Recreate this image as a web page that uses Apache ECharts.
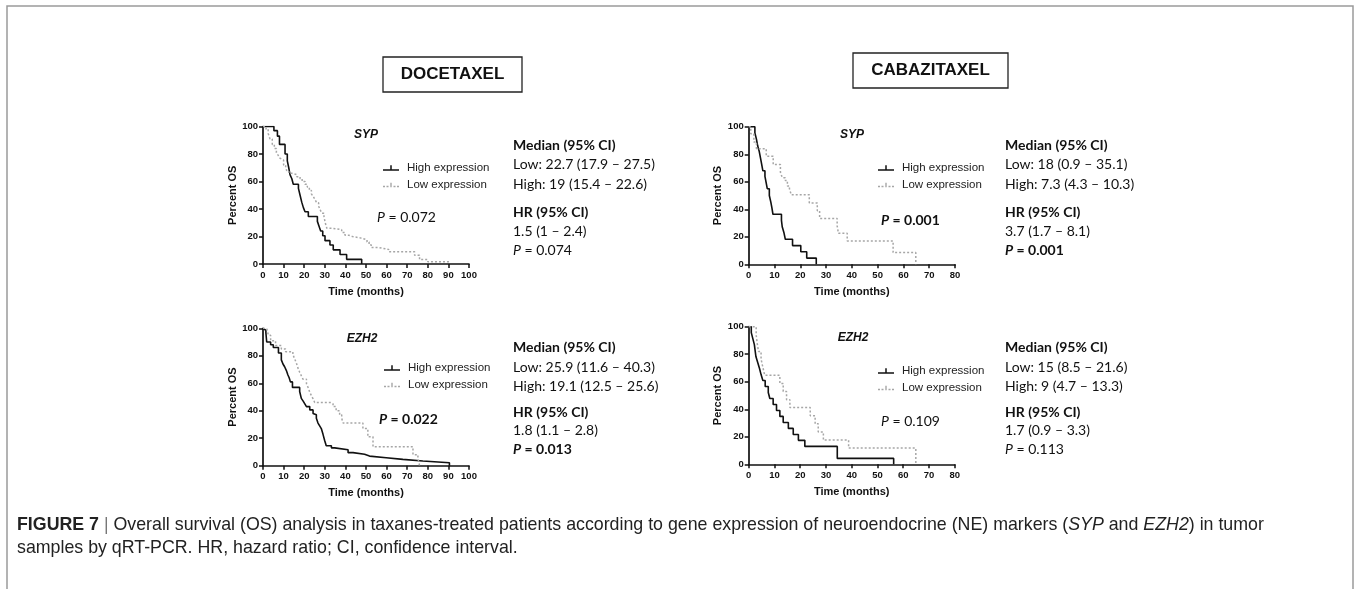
<!DOCTYPE html>
<html><head><meta charset="utf-8">
<script src="https://cdn.jsdelivr.net/npm/echarts@6/dist/echarts.min.js"></script>
<style>html,body{margin:0;padding:0;background:#fff}#c{width:1354px;height:589px}</style>
</head><body><div id="c"></div>
<script>
// ---- Kaplan-Meier step data: [time (months), percent OS after the step] ----
const docSypHigh = [[0,100],[5.3,97],[7,93],[8,87],[10.7,80],[11.8,75],[12.5,70],[13.1,65],[14,62],[14.7,58],[17.2,55],[18,50],[18.8,45],[19.6,41],[20.4,38],[22,34.5],[26.4,31],[27.2,27.5],[28,24],[29,20.5],[30.1,17],[32.5,13.8],[34.1,10.3],[37.4,6.9],[40.6,3.4],[47.9,0]];
const docSypLow = [[0,100],[1.5,98],[2.5,95],[3.4,91],[4.5,87],[5.5,84],[6.5,81],[7.4,79],[8.2,77],[9,75.6],[10,72],[11,70],[11.5,68],[12.5,66],[14,65],[16.4,63.5],[18,62],[19,60],[20.4,58],[21.5,56],[22.5,53.5],[23.5,51],[24.4,49],[25.2,47],[26,44.6],[27,42],[27.6,40],[28.5,37],[29.6,34.4],[30.2,30],[31,26],[33.3,25],[38.2,23],[39.8,21],[41.5,20],[43.4,19],[47.2,17.6],[50.5,16],[51.5,14],[52.5,12],[56,10.6],[61,9],[73.6,6.4],[76,3.2],[80,1.6],[91,1.6]];
const cabSypHigh = [[0,100],[2.4,95.5],[3,91],[3.5,86],[4.1,82],[4.6,77],[5,73],[5.5,68],[6.3,64],[6.8,59],[7.2,55],[8,50],[8.6,45],[9,41],[9.4,36.4],[12.7,32],[13,27.3],[13.7,22.7],[14.2,18.2],[17,13.6],[20.2,9.1],[22.5,4.5],[26.2,0]];
const cabSypLow = [[0,100],[0.8,95],[2,89],[3,84],[6.8,78.6],[9.5,72.5],[12.3,67],[13,63],[14.2,61],[15,57],[15.8,55],[16.5,50.5],[23.5,44.6],[26.6,39],[27.5,33.4],[34.3,28],[34.8,22.5],[38.2,17],[56,8.5],[64.8,0]];
const docEzhHigh = [[0,100],[0.8,98.6],[1.4,96.8],[1.8,90],[3.7,88],[5,86],[7.5,82],[8.9,77],[9.7,74],[10.5,72],[11.3,69.4],[12.1,66],[12.7,64],[13.3,61],[14.3,57],[17.8,54],[18.6,49],[19.5,47],[20.3,45],[21.1,43],[22.7,40.6],[24.3,38],[25.1,37],[25.9,34.5],[26.7,31],[27.5,29],[28.3,27],[29.1,23],[29.9,18.5],[30.7,14.5],[33.2,13],[34.8,11.6],[41.3,9.5],[43.7,8.3],[49.3,7],[51.7,5.8],[59.8,4.6],[67.9,3.4],[77.6,2.2],[90.5,0]];
const docEzhLow = [[0,100],[1.8,98.6],[2.6,95],[3.7,91],[6.1,87.5],[8.9,85],[11,83],[14.5,81],[15.3,78],[16.2,74.7],[17,71],[17.8,68],[18.6,65.5],[19.4,63],[21.1,59.6],[22,56.5],[22.7,53.5],[23.5,51],[24.3,48.7],[25.1,46],[33,45],[34,43],[35.5,40],[37.2,37],[38.2,34.5],[38.9,31],[48.5,27],[50.9,21],[53.4,13.8],[72.8,8],[75.2,5.6],[76,0]];
const cabEzhHigh = [[0,100],[1,95.7],[1.6,91.3],[2.2,87],[2.5,82.6],[2.8,78.3],[3.5,74],[4.2,69.6],[4.8,65.2],[5.5,60.9],[6.4,56.5],[7.6,52.2],[8.2,47.8],[9.5,43.5],[10.8,39.1],[12.1,34.8],[13.4,30.4],[15.4,26.1],[17.3,21.7],[19.3,17.4],[21.8,13],[34.4,4.3],[56.3,0]];
const cabEzhLow = [[0,100],[2.9,94],[3.3,88],[3.8,82],[4.8,76.5],[5.5,70.5],[6.2,64.7],[12.1,58.8],[13.4,52.9],[14.7,47],[16,41.2],[23.9,35.3],[25.8,29.4],[27,23.5],[29,17.6],[38.8,11.8],[64.9,0]];

const xMaxes = [100, 80, 100, 80];
const genes = ['SYP', 'SYP', 'EZH2', 'EZH2'];
const drugs = ['DOCETAXEL', 'CABAZITAXEL'];
const pLog = ['0.072', '0.001', '0.022', '0.109'];
const pLogBold = [false, true, true, false];
const medLow = ['Low: 22.7 (17.9 – 27.5)', 'Low: 18 (0.9 – 35.1)', 'Low: 25.9 (11.6 – 40.3)', 'Low: 15 (8.5 – 21.6)'];
const medHigh = ['High: 19 (15.4 – 22.6)', 'High: 7.3 (4.3 – 10.3)', 'High: 19.1 (12.5 – 25.6)', 'High: 9 (4.7 – 13.3)'];
const hrVal = ['1.5 (1 – 2.4)', '3.7 (1.7 – 8.1)', '1.8 (1.1 – 2.8)', '1.7 (0.9 – 3.3)'];
const hrP = ['0.074', '0.001', '0.013', '0.113'];
const hrPBold = [false, true, true, false];

const chart = echarts.init(document.getElementById('c'), null, {renderer: 'canvas'});
const INK = '#111';
const GREY = '#a6a6a6';
const grids = [
  {left: 263, top: 126.5, width: 206, height: 137.5},
  {left: 748.7, top: 126.8, width: 206.3, height: 137.5},
  {left: 263, top: 328.3, width: 206, height: 137.4},
  {left: 748.7, top: 326.7, width: 206, height: 137.6}
];
const axisFont = {fontFamily: 'Arial, Liberation Sans', fontWeight: 'bold', color: INK};
const xAxes = xMaxes.map((mx, i) => ({
  type: 'value', gridIndex: i, min: 0, max: mx, interval: 10,
  name: 'Time (months)', nameLocation: 'middle', nameGap: 22,
  nameTextStyle: Object.assign({fontSize: 11}, axisFont),
  axisLine: {onZero: false, lineStyle: {color: INK, width: 1.7}},
  axisTick: {show: true, length: 4, lineStyle: {color: INK, width: 1.5}},
  axisLabel: Object.assign({fontSize: 9.5, margin: 6}, axisFont),
  splitLine: {show: false}
}));
const yAxes = xMaxes.map((mx, i) => ({
  type: 'value', gridIndex: i, min: 0, max: 100, interval: 20,
  name: 'Percent OS', nameLocation: 'middle', nameGap: 25, nameRotate: 90,
  nameTextStyle: Object.assign({fontSize: 11}, axisFont),
  axisLine: {show: true, onZero: false, lineStyle: {color: INK, width: 1.7}},
  axisTick: {show: true, length: 4, lineStyle: {color: INK, width: 1.5}},
  axisLabel: Object.assign({fontSize: 9.5, margin: 5}, axisFont),
  splitLine: {show: false}
}));
function km(name, data, idx, high) {
  return {
    type: 'line', name: name, data: data, xAxisIndex: idx, yAxisIndex: idx,
    step: 'end', symbol: 'none', silent: true, animation: false,
    lineStyle: {color: high ? INK : GREY, width: high ? 1.6 : 1.5, type: high ? 'solid' : [2, 2]},
    itemStyle: {color: high ? INK : GREY}
  };
}
const allData = [[docSypHigh, docSypLow], [cabSypHigh, cabSypLow], [docEzhHigh, docEzhLow], [cabEzhHigh, cabEzhLow]];
const series = [];
allData.forEach((pair, i) => {
  series.push(km('High expression', pair[0], i, true));
  series.push(km('Low expression', pair[1], i, false));
});
const hiIcon = 'path://M0,5.5H16V7H0Z M7.25,1.5H8.75V7H7.25Z';
const loIcon = 'path://M0,5.5H2V7H0Z M3.5,5.5H5.5V7H3.5Z M7.3,2.5H8.7V7H7.3Z M10.5,5.5H12.5V7H10.5Z M14,5.5H16V7H14Z';
const legendPos = [[383, 162], [878, 162], [384, 362], [878, 365]];
const legends = legendPos.map(p => ({
  left: p[0], top: p[1], orient: 'vertical', itemWidth: 16, itemHeight: 8, itemGap: 5, padding: 0,
  selectedMode: false, symbolKeepAspect: true,
  textStyle: {fontFamily: 'Arial, Liberation Sans', fontSize: 11.5, color: '#222', padding: [0, 0, 0, 3], lineHeight: 12},
  data: [{name: 'High expression', icon: hiIcon}, {name: 'Low expression', icon: loIcon}]
}));

const SANS = 'Lato';
const graphic = [];
graphic.push({type: 'rect', shape: {x: 7, y: 6, width: 1346, height: 640}, style: {fill: 'none', stroke: '#9a9a9a', lineWidth: 1.5}, silent: true});
// drug title boxes
const boxes = [[383, 57, 139, 35], [853, 53, 155, 35]];
boxes.forEach((b, k) => {
  graphic.push({type: 'rect', shape: {x: b[0], y: b[1], width: b[2], height: b[3]}, style: {fill: '#fff', stroke: '#222', lineWidth: 1.3}, silent: true});
  graphic.push({type: 'text', x: b[0] + b[2] / 2, y: b[1] + b[3] / 2, style: {text: drugs[k], fontFamily: 'Arial, Liberation Sans', fontWeight: 'bold', fontSize: 17, fill: '#111', align: 'center', verticalAlign: 'middle'}, silent: true});
});
// gene labels
const genePos = [[366, 135], [852, 135], [362, 339], [853, 338]];
genePos.forEach((g, i) => {
  graphic.push({type: 'text', x: g[0], y: g[1], style: {text: genes[i], fontFamily: 'Arial, Liberation Sans', fontWeight: 'bold', fontStyle: 'italic', fontSize: 12, fill: '#111', align: 'center', verticalAlign: 'middle'}, silent: true});
});
// log-rank p-values
const pPos = [[377, 217], [881, 220], [379, 419], [881, 421]];
pPos.forEach((p, i) => {
  const w = pLogBold[i] ? 'bold' : 'normal';
  graphic.push({type: 'text', x: p[0], y: p[1], style: {
    text: '{i|P} = ' + pLog[i],
    rich: {i: {fontStyle: 'italic', fontWeight: w, fontFamily: SANS, fontSize: 14, fill: '#111'}},
    fontFamily: SANS, fontWeight: w, fontSize: 14, fill: '#111', verticalAlign: 'middle'}, silent: true});
});
// statistics blocks
const blockX = [513, 1005, 513, 1005];
const rowsTop = [145, 164.5, 184, 212.5, 231.5, 250.5];
const rowsBot = [347.5, 367, 386, 412, 430.5, 449];
for (let i = 0; i < 4; i++) {
  const rows = i < 2 ? rowsTop : rowsBot;
  const x = blockX[i];
  const base = {fontFamily: SANS, fontSize: 14, fill: '#111', verticalAlign: 'middle'};
  const lines = [
    ['Median (95% CI)', 'bold', null],
    [medLow[i], 'normal', null],
    [medHigh[i], 'normal', null],
    ['HR (95% CI)', 'bold', null],
    [hrVal[i], 'normal', null],
    ['{i|P} = ' + hrP[i], hrPBold[i] ? 'bold' : 'normal', true]
  ];
  lines.forEach((ln, r) => {
    const st = Object.assign({}, base, {text: ln[0], fontWeight: ln[1]});
    if (ln[2]) st.rich = {i: {fontStyle: 'italic', fontWeight: ln[1], fontFamily: SANS, fontSize: 14, fill: '#111'}};
    graphic.push({type: 'text', x: x, y: rows[r], style: st, silent: true});
  });
}
// caption
const CAP = 'Liberation Sans, Arial';
const CS = 17.8;
graphic.push({type: 'text', x: 17, y: 525, style: {
  text: '{b|FIGURE 7} {s||} Overall survival (OS) analysis in taxanes-treated patients according to gene expression of neuroendocrine (NE) markers ({i|SYP} and {i|EZH2}) in tumor',
  rich: {b: {fontWeight: 'bold', fontFamily: CAP, fontSize: CS, fill: '#222'}, s: {fontFamily: CAP, fontSize: CS, fill: '#777'}, i: {fontStyle: 'italic', fontFamily: CAP, fontSize: CS, fill: '#222'}},
  fontFamily: CAP, fontSize: CS, fill: '#222', verticalAlign: 'middle'}, silent: true});
graphic.push({type: 'text', x: 17, y: 548, style: {
  text: 'samples by qRT-PCR. HR, hazard ratio; CI, confidence interval.',
  fontFamily: CAP, fontSize: CS, fill: '#222', verticalAlign: 'middle'}, silent: true});

chart.setOption({
  animation: false,
  backgroundColor: '#fff',
  grid: grids,
  xAxis: xAxes,
  yAxis: yAxes,
  legend: legends,
  series: series,
  graphic: graphic
});
</script></body></html>
